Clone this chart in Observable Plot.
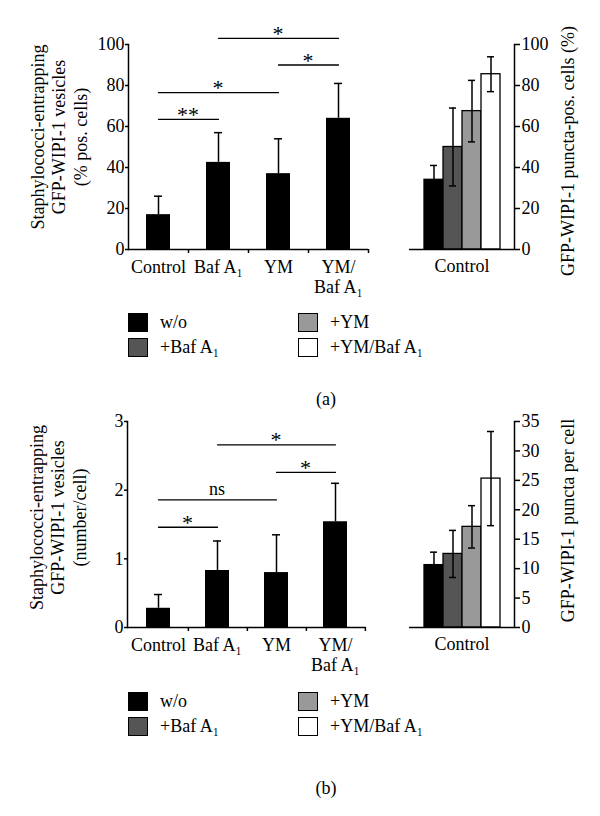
<!DOCTYPE html>
<html><head><meta charset="utf-8">
<script src="https://cdn.jsdelivr.net/npm/d3@7"></script>
<script src="https://cdn.jsdelivr.net/npm/@observablehq/plot@0.6"></script>
<style>
body{margin:0;background:#fff;font-family:"Liberation Serif",serif;color:#000;}
#fig{position:relative;width:600px;height:816px;overflow:hidden;}
.pl{position:absolute;}
.sw{position:absolute;width:18px;height:17px;border:1px solid #000;box-sizing:content-box;}
.lt{position:absolute;font-size:18px;line-height:18px;white-space:nowrap;}
.cap{position:absolute;font-size:18px;line-height:18px;width:60px;text-align:center;}
</style></head><body><div id="fig"></div><script>
// ---------- data ----------
const categories = ["Control", "Baf A₁", "YM", "YM/\nBaf A₁"];
const seriesNames = ["w/o", "+Baf A₁", "+YM", "+YM/Baf A₁"];
const seriesColors = ["#000000", "#555555", "#999999", "#ffffff"];
const groupLabel = "Control";

// panel (a)
const vesiclePct = [17, 42.5, 37, 64];
const vesiclePctErr = [9, 14.5, 17, 17];
const vesiclePctTicks = [0, 20, 40, 60, 80, 100];
const vesiclePctBrackets = [
  {from: "Control", to: "Baf A₁", y: 63.5, label: "**"},
  {from: "Control", to: "YM", y: 76.5, label: "*"},
  {from: "YM", to: "YM/\nBaf A₁", y: 90, label: "*"},
  {from: "Baf A₁", to: "YM/\nBaf A₁", y: 103, label: "*"}
];
const punctaPct = [34, 50, 67.5, 85.5];
const punctaPctErr = [7, 19, 15, 8.5];
const punctaPctTicks = [0, 20, 40, 60, 80, 100];

// panel (b)
const vesicleNum = [0.28, 0.83, 0.80, 1.54];
const vesicleNumErr = [0.2, 0.43, 0.55, 0.56];
const vesicleNumTicks = [0, 1, 2, 3];
const vesicleNumBrackets = [
  {from: "Control", to: "Baf A₁", y: 1.46, label: "*"},
  {from: "Control", to: "YM", y: 1.86, label: "ns"},
  {from: "YM", to: "YM/\nBaf A₁", y: 2.26, label: "*"},
  {from: "Baf A₁", to: "YM/\nBaf A₁", y: 2.66, label: "*"}
];
const punctaNum = [10.6, 12.5, 17.1, 25.3];
const punctaNumErr = [2.2, 4.0, 3.6, 8.0];
const punctaNumTicks = [0, 5, 10, 15, 20, 25, 30, 35];

const leftLabelA = "Staphylococci-entrapping\nGFP-WIPI-1 vesicles\n(% pos. cells)";
const rightLabelA = "GFP-WIPI-1 puncta-pos. cells (%)";
const leftLabelB = "Staphylococci-entrapping\nGFP-WIPI-1 vesicles\n(number/cell)";
const rightLabelB = "GFP-WIPI-1 puncta per cell";

const FONT = '"Liberation Serif", "Times New Roman", serif';
const fig = document.getElementById("fig");

function place(node, left, top) {
  const d = document.createElement("div");
  d.className = "pl"; d.style.left = left + "px"; d.style.top = top + "px";
  d.appendChild(node); fig.appendChild(d);
}

function leftChart({values, errs, ticks, domain, brackets, label, top, m, labelDy}) {
  const width = 375, height = 300;
  const data = categories.map((c, i) => ({cat: c, value: values[i], hi: values[i] + errs[i]}));
  const step = (width - m.left - m.right) / categories.length;
  const pts = brackets.flatMap((b, k) => [{k, x: b.from, y: b.y}, {k, x: b.to, y: b.y}]);
  const plot = Plot.plot({
    width, height,
    marginLeft: m.left, marginRight: m.right, marginTop: m.top, marginBottom: m.bottom,
    style: {fontFamily: FONT, fontSize: "18px", background: "transparent", color: "black", overflow: "visible"},
    x: {domain: categories, paddingInner: 0.6, paddingOuter: 0.3, label: null, axis: null},
    y: {domain, label: null, axis: null},
    marks: [
      Plot.barY(data, {x: "cat", y: "value", fill: "black"}),
      Plot.ruleX(data, {x: "cat", y1: "value", y2: "hi", strokeWidth: 1.5}),
      Plot.tickY(data, {x: "cat", y: "hi", insetLeft: 8, insetRight: 8, strokeWidth: 1.5}),
      Plot.line(pts, {x: "x", y: "y", z: "k", strokeWidth: 1.3}),
      Plot.ruleY([domain[0]], {strokeWidth: 1.5}),
      Plot.frame({anchor: "left", strokeWidth: 1.5}),
      Plot.axisY({ticks, tickSize: 3, tickPadding: 1, label: null, strokeWidth: 1.5, tickFormat: d => String(d)}),
      Plot.axisX({tickSize: 0, tickPadding: 10, label: null, lineHeight: 1.08}),
      Plot.axisX({tickSize: 4, fill: "none", dx: step / 2, label: null, strokeWidth: 1.5}),
      Plot.text([label], {text: d => d, frameAnchor: "left", textAnchor: "middle", rotate: -90, dx: -70, dy: labelDy, lineHeight: 1.2, fontSize: 18})
    ]
  });
  const xs = plot.scale("x"), ys = plot.scale("y");
  const svg = d3.select(plot);
  for (const b of brackets) {
    const mid = (xs.apply(b.from) + xs.apply(b.to)) / 2 + xs.bandwidth / 2;
    const isStar = b.label !== "ns";
    svg.append("text")
      .attr("x", mid).attr("y", ys.apply(b.y) + (isStar ? 3 : -4))
      .attr("text-anchor", "middle")
      .attr("font-size", isStar ? 22 : 18)
      .attr("font-family", FONT)
      .text(b.label);
  }
  place(plot, 0, top);
}

function rightChart({values, errs, ticks, domain, label, top, m, labelDy}) {
  const width = 220, height = 300;
  const data = seriesNames.map((s, i) => ({group: groupLabel, series: s, value: values[i], lo: values[i] - errs[i], hi: values[i] + errs[i]}));
  const plot = Plot.plot({
    width, height,
    marginLeft: m.left, marginRight: m.right, marginTop: m.top, marginBottom: m.bottom,
    style: {fontFamily: FONT, fontSize: "18px", background: "transparent", color: "black", overflow: "visible"},
    fx: {padding: 0, label: null, axis: null},
    x: {domain: seriesNames, paddingInner: 0, paddingOuter: 0.74, axis: null, label: null},
    y: {domain, label: null, axis: null},
    color: {domain: seriesNames, range: seriesColors},
    marks: [
      Plot.barY(data, {fx: "group", x: "series", y: "value", fill: "series", stroke: "black", strokeWidth: 1.3}),
      Plot.ruleX(data, {fx: "group", x: "series", y1: "lo", y2: "hi", strokeWidth: 1.5}),
      Plot.tickY(data, {fx: "group", x: "series", y: "lo", insetLeft: 6, insetRight: 6, strokeWidth: 1.5}),
      Plot.tickY(data, {fx: "group", x: "series", y: "hi", insetLeft: 6, insetRight: 6, strokeWidth: 1.5}),
      Plot.ruleY([domain[0]], {strokeWidth: 1.5}),
      Plot.frame({anchor: "right", strokeWidth: 1.5}),
      Plot.axisY({anchor: "right", ticks, tickSize: 5, tickPadding: 2, label: null, strokeWidth: 1.5, tickFormat: d => String(d)}),
      Plot.axisFx({anchor: "bottom", tickSize: 0, tickPadding: 10, label: null}),
      Plot.text([label], {text: d => d, frameAnchor: "right", textAnchor: "middle", rotate: -90, dx: 54, dy: labelDy, fontSize: 18})
    ]
  });
  place(plot, 380, top);
}

function legend(top) {
  seriesNames.forEach((s, i) => {
    const col = Math.floor(i / 2), row = i % 2;
    const x = col === 0 ? 128 : 298;
    const y = top + row * 25;
    const sw = document.createElement("div");
    sw.className = "sw"; sw.style.left = x + "px"; sw.style.top = y + "px"; sw.style.background = seriesColors[i];
    fig.appendChild(sw);
    const t = document.createElement("div");
    t.className = "lt"; t.style.left = (x + 32) + "px"; t.style.top = y + "px"; t.textContent = s;
    fig.appendChild(t);
  });
}

function caption(text, top) {
  const c = document.createElement("div");
  c.className = "cap"; c.style.left = (326 - 30) + "px"; c.style.top = top + "px"; c.textContent = text;
  fig.appendChild(c);
}

leftChart({values: vesiclePct, errs: vesiclePctErr, ticks: vesiclePctTicks, domain: [0, 100],
  brackets: vesiclePctBrackets, label: leftLabelA, top: 0,
  m: {left: 128, right: 7, top: 44, bottom: 51}, labelDy: -10});
rightChart({values: punctaPct, errs: punctaPctErr, ticks: punctaPctTicks, domain: [0, 100],
  label: rightLabelA, top: 0, m: {left: 29, right: 86, top: 44, bottom: 51}, labelDy: 4});
leftChart({values: vesicleNum, errs: vesicleNumErr, ticks: vesicleNumTicks, domain: [0, 3],
  brackets: vesicleNumBrackets, label: leftLabelB, top: 390,
  m: {left: 127, right: 9, top: 31, bottom: 63}, labelDy: -7});
rightChart({values: punctaNum, errs: punctaNumErr, ticks: punctaNumTicks, domain: [0, 35],
  label: rightLabelB, top: 390, m: {left: 29, right: 86, top: 31, bottom: 63}, labelDy: -4});
legend(313);
legend(692);
caption("(a)", 390);
caption("(b)", 779);
</script></body></html>
